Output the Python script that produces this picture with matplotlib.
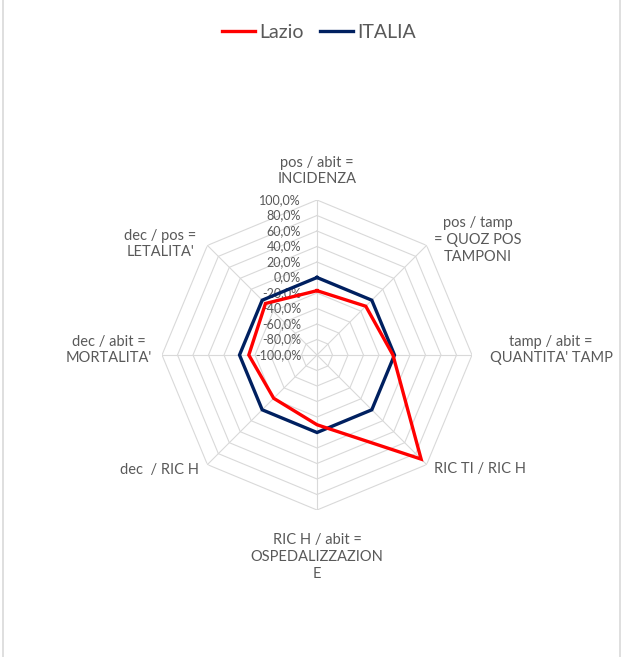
import numpy as np
import matplotlib
matplotlib.use("Agg")
import matplotlib.pyplot as plt
import matplotlib.transforms as mtransforms
from matplotlib.lines import Line2D

plt.rcParams['font.family'] = ['Lato', 'DejaVu Sans']

# ---- data ----
categories = ["pos / abit =\nINCIDENZA",
              "pos / tamp\n= QUOZ POS\nTAMPONI",
              "tamp / abit =\nQUANTITA' TAMP",
              "RIC TI / RIC H",
              "RIC H / abit =\nOSPEDALIZZAZION\nE",
              "dec  / RIC H",
              "dec / abit =\nMORTALITA'",
              "dec / pos =\nLETALITA'"]
lazio = [-17, -11, -2, 90, -10, -21, -12, -6]
italia = [0, 0, 0, 0, 0, 0, 0, 0]
tick_values = [100, 80, 60, 40, 20, 0, -20, -40, -60, -80, -100]
tick_labels = ["100,0%", "80,0%", "60,0%", "40,0%", "20,0%", "0,0%",
               "-20,0%", "-40,0%", "-60,0%", "-80,0%", "-100,0%"]

W, H = 622, 657
fig = plt.figure(figsize=(W / 100, H / 100), dpi=100)

def fx(px):
    return px / W

def fy(py):
    return 1 - py / H

cx, cy, R = 317, 355, 155
ax = fig.add_axes([fx(cx - R), fy(cy + R), 2 * R / W, 2 * R / H], projection='polar')
ax.set_theta_offset(np.pi / 2)
ax.set_theta_direction(-1)
ax.set_ylim(-100, 100)
ax.grid(False)
ax.spines['polar'].set_visible(False)
ax.set_xticks([])
ax.set_yticks([])
ax.patch.set_alpha(0)

n = len(categories)
angles = np.arange(n) * 2 * np.pi / n
ang_closed = np.concatenate([angles, angles[:1]])

grid_col = '#d9d9d9'
for lev in tick_values[:-1]:
    ax.plot(ang_closed, [lev] * (n + 1), color=grid_col, lw=0.8, zorder=1)
for a in angles:
    ax.plot([a, a], [-100, 100], color=grid_col, lw=0.8, zorder=1)

ax.plot(ang_closed, list(italia) + [italia[0]], color='#002060', lw=2.4, zorder=3,
        solid_joinstyle='miter')
ax.plot(ang_closed, list(lazio) + [lazio[0]], color='#ff0000', lw=2.4, zorder=4,
        solid_joinstyle='miter')

text_col = '#595959'
off = mtransforms.offset_copy(ax.transData, fig=fig, x=-16, y=0, units='dots')
for v, lab in zip(tick_values, tick_labels):
    ax.text(0, v, lab, transform=off, ha='right', va='center', fontsize=9,
            color=text_col, zorder=2)

# category labels (pixel centres)
label_pos = [(317, 171), (478, 240), (551, 350), (480, 469),
             (317, 557), (160, 470), (109, 350), (160, 244)]
for (px, py), lab in zip(label_pos, categories):
    fig.text(fx(px), fy(py), lab, ha='center', va='center', fontsize=10.5,
             color=text_col, linespacing=1.25, multialignment='center')

handles = [Line2D([], [], color='#ff0000', lw=2.4),
           Line2D([], [], color='#002060', lw=2.4)]
fig.legend(handles, ["Lazio", "ITALIA"], loc='center', bbox_to_anchor=(fx(319), fy(32)),
           ncol=2, frameon=False, fontsize=14, handlelength=1.7, handletextpad=0.25,
           columnspacing=0.8, labelcolor=text_col)

# chart area border
fig.add_artist(Line2D([fx(2.5), fx(2.5)], [0, 1], color=grid_col, lw=1.2))
fig.add_artist(Line2D([fx(619.5), fx(619.5)], [0, 1], color=grid_col, lw=1.2))

fig.savefig('out.png', dpi=100)
